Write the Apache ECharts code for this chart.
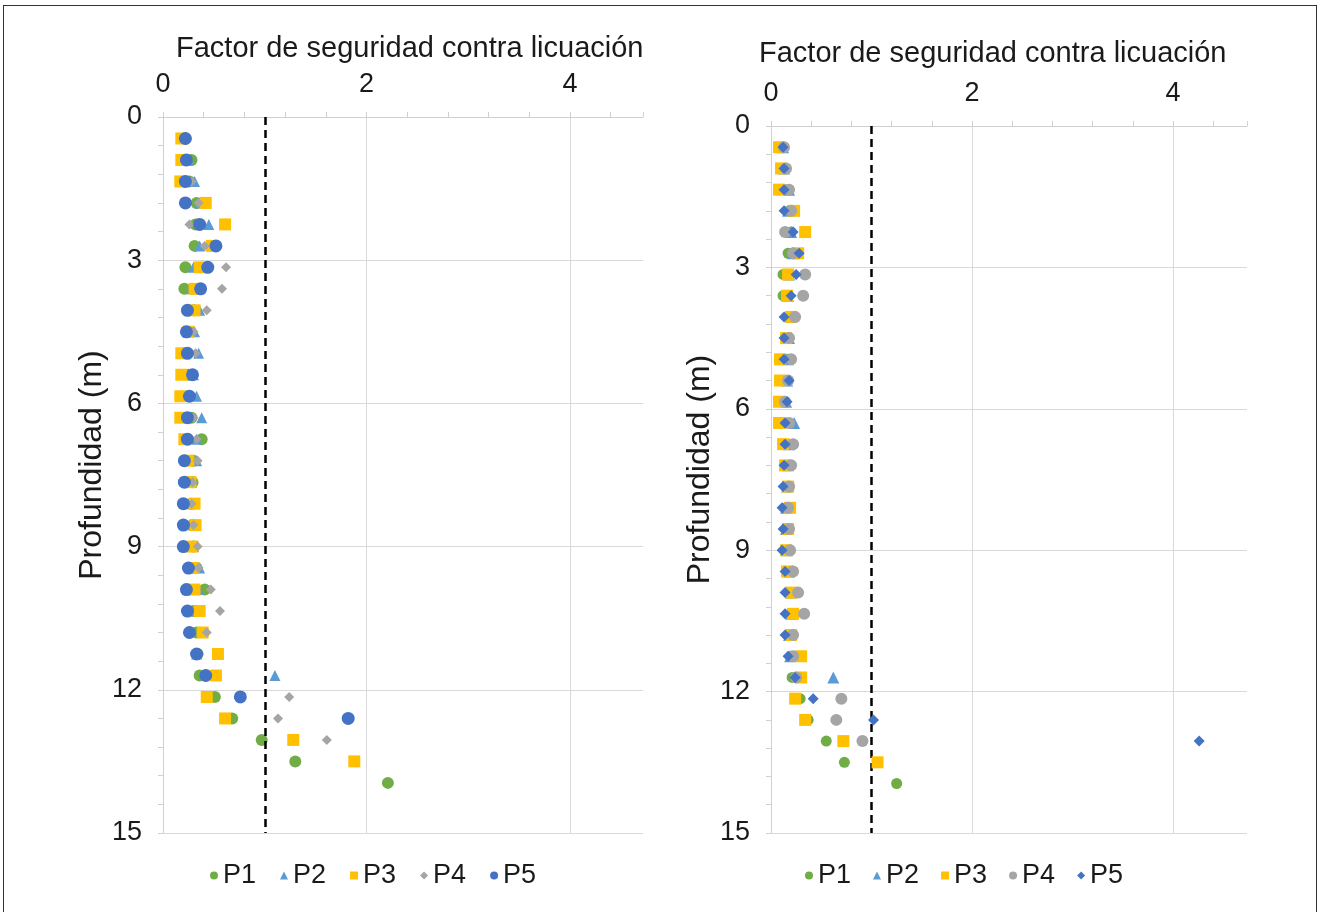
<!DOCTYPE html>
<html>
<head>
<meta charset="utf-8">
<script src="https://cdn.jsdelivr.net/npm/echarts@6/dist/echarts.min.js"></script>
<style>
  html, body { margin: 0; padding: 0; background: #fff; }
  #chart { position: absolute; left: 0; top: 0; width: 1321px; height: 912px; }
  #frame { position: absolute; left: 3px; top: 5px; width: 1312px; height: 912px;
           border: 1.5px solid #333; border-bottom: none; pointer-events: none; }
</style>
</head>
<body>
<div id="chart"></div>
<div id="frame"></div>
<script>
// Profundidad (m) of each sampled level
const depths = [0.45, 0.9, 1.35, 1.8, 2.25, 2.7, 3.15, 3.6, 4.05, 4.5, 4.95, 5.4, 5.85, 6.3, 6.75,
  7.2, 7.65, 8.1, 8.55, 9.0, 9.45, 9.9, 10.35, 10.8, 11.25, 11.7, 12.15, 12.6, 13.05, 13.5, 13.95];

const seriesNames = ['P1', 'P2', 'P3', 'P4', 'P5'];
const xTicks = [0, 2, 4];
const yTicks = [0, 3, 6, 9, 12, 15];

// Left panel: factor de seguridad per level
const leftP1 = [0.22,0.28,0.26,0.33,0.32,0.31,0.22,0.21,0.30,0.25,0.20,0.25,0.25,0.28,0.38,0.30,0.29,0.28,0.29,0.30,0.33,0.41,0.30,0.33,0.34,0.36,0.51,0.68,0.97,1.30,2.21];
const leftP2 = [0.20,0.25,0.31,0.36,0.45,0.36,0.30,0.28,0.36,0.31,0.35,0.30,0.33,0.38,0.33,0.33,0.28,0.27,0.30,0.30,0.36,0.35,0.33,0.38,0.33,1.10,null,null,null,null,null];
const leftP3 = [0.18,0.18,0.17,0.42,0.61,0.48,0.36,0.31,0.31,0.25,0.18,0.18,0.17,0.17,0.21,0.25,0.27,0.31,0.32,0.29,0.30,0.31,0.36,0.39,0.54,0.52,0.43,0.61,1.28,1.88,null];
const leftP4 = [0.22,0.25,0.28,0.35,0.26,0.41,0.62,0.58,0.43,0.30,0.32,0.28,0.28,0.30,0.33,0.34,0.29,0.28,0.30,0.34,0.35,0.47,0.56,0.43,0.35,0.40,1.24,1.13,1.61,null,null];
const leftP5 = [0.22,0.23,0.22,0.22,0.36,0.52,0.44,0.37,0.24,0.23,0.24,0.29,0.26,0.24,0.24,0.21,0.21,0.20,0.20,0.20,0.25,0.23,0.24,0.26,0.33,0.42,0.76,1.82,null,null,null];

// Right panel
const rightP1 = [0.12,0.14,0.15,0.18,0.20,0.17,0.12,0.12,0.18,0.15,0.15,0.14,0.13,0.15,0.22,0.16,0.15,0.15,0.15,0.17,0.18,0.24,0.20,0.18,0.20,0.21,0.29,0.37,0.55,0.73,1.25];
const rightP2 = [0.12,0.13,0.18,0.17,0.20,0.22,0.18,0.17,0.20,0.18,0.17,0.16,0.15,0.23,0.18,0.17,0.16,0.15,0.15,0.16,0.18,0.20,0.20,0.18,0.19,0.62,null,null,null,null,null];
const rightP3 = [0.08,0.10,0.08,0.23,0.34,0.27,0.17,0.16,0.20,0.15,0.09,0.09,0.08,0.08,0.12,0.14,0.17,0.19,0.17,0.15,0.16,0.20,0.22,0.20,0.30,0.30,0.24,0.34,0.72,1.06,null];
const rightP4 = [0.13,0.15,0.18,0.20,0.14,0.22,0.34,0.32,0.24,0.18,0.20,0.17,0.14,0.18,0.22,0.20,0.18,0.17,0.18,0.19,0.22,0.27,0.33,0.22,0.22,0.25,0.70,0.65,0.91,null,null];
const rightP5 = [0.12,0.13,0.13,0.13,0.22,0.28,0.25,0.20,0.13,0.13,0.13,0.18,0.16,0.14,0.14,0.13,0.12,0.11,0.12,0.11,0.14,0.14,0.14,0.14,0.17,0.24,0.42,1.02,4.26,null,null];

const safetyLimit = 1;

const colors = { P1: '#70AD47', P2: '#5B9BD5', P3: '#FFC000', P4: '#A5A5A5', P5: '#4472C4' };
const FONT = '"Liberation Sans", Arial, sans-serif';
const TXT = '#1a1a1a';

function pairs(values) {
  const out = [];
  values.forEach((v, i) => { if (v !== null) out.push([v, depths[i]]); });
  return out;
}

const panels = [
  { values: [leftP1, leftP2, leftP3, leftP4, leftP5],
    symbols: ['circle', 'triangle', 'rect', 'diamond', 'circle'],
    sizes: [12, 11, 12, 10, 13],
    grid: { left: 163, top: 117, width: 480, height: 716 }, xMax: 4.717,
    titleLeft: 171, titleTop: 29, legendLeft: 205, nameGap: 52 },
  { values: [rightP1, rightP2, rightP3, rightP4, rightP5],
    symbols: ['circle', 'triangle', 'rect', 'circle', 'diamond'],
    sizes: [11, 12, 12, 12, 11],
    grid: { left: 771, top: 126, width: 476, height: 707 }, xMax: 4.736,
    titleLeft: 754, titleTop: 34, legendLeft: 800, nameGap: 55 }
];

const grid = [], xAxis = [], yAxis = [], series = [], title = [], legend = [];

panels.forEach((p, k) => {
  grid.push(p.grid);
  title.push({ text: 'Factor de seguridad contra licuación', left: p.titleLeft, top: p.titleTop,
    textStyle: { fontFamily: FONT, fontSize: 29, fontWeight: 'normal', color: TXT } });
  xAxis.push({
    type: 'value', gridIndex: k, position: 'top', min: 0, max: p.xMax, interval: 2,
    axisLine: { show: true, lineStyle: { color: '#d0d0d0' } },
    axisTick: { show: true, length: 5, lineStyle: { color: '#d0d0d0' } },
    minorTick: { show: true, splitNumber: 5, length: 5, lineStyle: { color: '#d0d0d0' } },
    axisLabel: { fontFamily: FONT, fontSize: 27, color: TXT, margin: 19, showMaxLabel: false,
      formatter: v => (xTicks.includes(v) ? String(v) : '') },
    splitLine: { show: true, showMaxLine: false, lineStyle: { color: '#d9d9d9', width: 1 } }
  });
  yAxis.push({
    type: 'value', gridIndex: k, inverse: true, min: 0, max: 15, interval: 3,
    name: 'Profundidad (m)', nameLocation: 'middle', nameGap: p.nameGap, nameRotate: 90,
    nameTextStyle: { fontFamily: FONT, fontSize: 32, color: TXT, padding: [0, 0, 0, 20] },
    axisLine: { show: true, lineStyle: { color: '#d0d0d0' } },
    axisTick: { show: true, length: 5, lineStyle: { color: '#d0d0d0' } },
    minorTick: { show: true, splitNumber: 5, length: 5, lineStyle: { color: '#d0d0d0' } },
    axisLabel: { fontFamily: FONT, fontSize: 27, color: TXT, margin: 21,
      formatter: v => (yTicks.includes(v) ? String(v) : '') },
    splitLine: { show: true, lineStyle: { color: '#d9d9d9', width: 1 } }
  });
  seriesNames.forEach((name, i) => {
    const s = {
      name, type: 'scatter', xAxisIndex: k, yAxisIndex: k,
      symbol: p.symbols[i], symbolSize: p.sizes[i],
      itemStyle: { color: colors[name], opacity: 1 },
      data: pairs(p.values[i]), z: 3 + i
    };
    if (i === 0) {
      s.markLine = {
        silent: true, symbol: 'none', animation: false,
        label: { show: false },
        lineStyle: { color: '#000', type: [8, 5], width: 2.5 },
        data: [{ xAxis: safetyLimit }]
      };
    }
    series.push(s);
  });
  legend.push({
    left: p.legendLeft, top: 857, orient: 'horizontal',
    itemWidth: 8, itemHeight: 8, itemGap: k === 0 ? 24 : 22,
    textStyle: { fontFamily: FONT, fontSize: 27, color: TXT },
    data: seriesNames.map((n, i) => ({ name: n, icon: p.symbols[i] }))
  });
});

const chart = echarts.init(document.getElementById('chart'), null, { renderer: 'canvas' });
chart.setOption({
  animation: false,
  backgroundColor: '#fff',
  title, legend, grid, xAxis, yAxis, series
});
</script>
</body>
</html>
